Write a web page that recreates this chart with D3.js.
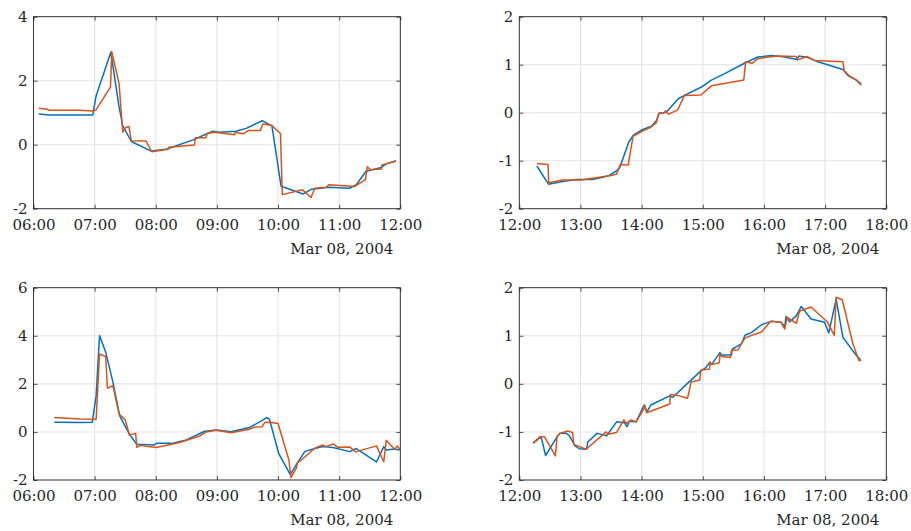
<!DOCTYPE html>
<html>
<head>
<meta charset="utf-8">
<script src="https://cdn.jsdelivr.net/npm/d3@7"></script>
<style>
  html, body { margin: 0; padding: 0; background: #ffffff; }
  svg { display: block; }
  text { font-family: "DejaVu Serif", serif; fill: #262626; }
</style>
</head>
<body>
<svg id="chart" width="911" height="531"></svg>
<script>
// ---------------- DATA (times are decimal hours on Mar 08, 2004) ----------------
const dateLabel = "Mar 08, 2004";

// Panel 1 (top-left)
const p1BlueT = [6.087, 6.26, 6.97, 7.025, 7.265, 7.396, 7.46, 7.60, 7.925, 8.17, 8.61, 8.93, 9.04, 9.31, 9.48, 9.74, 9.90, 10.05, 10.41, 10.55, 10.83, 11.17, 11.28, 11.44, 11.69, 11.77, 11.93];
const p1BlueV = [0.96, 0.93, 0.93, 1.53, 2.89, 1.22, 0.59, 0.10, -0.20, -0.14, 0.15, 0.42, 0.39, 0.42, 0.51, 0.75, 0.59, -1.30, -1.54, -1.39, -1.33, -1.36, -1.25, -0.83, -0.71, -0.60, -0.50];
const p1OrangeT = [6.087, 6.23, 6.245, 6.75, 6.98, 7.02, 7.26, 7.28, 7.40, 7.46, 7.51, 7.56, 7.60, 7.84, 7.935, 8.20, 8.21, 8.63, 8.65, 8.82, 8.84, 8.96, 9.29, 9.30, 9.43, 9.51, 9.71, 9.75, 9.89, 10.04, 10.07, 10.40, 10.54, 10.60, 10.79, 10.83, 11.14, 11.25, 11.43, 11.46, 11.51, 11.69, 11.70, 11.93];
const p1OrangeV = [1.14, 1.11, 1.08, 1.08, 1.05, 1.08, 1.81, 2.91, 1.90, 0.39, 0.54, 0.57, 0.125, 0.115, -0.22, -0.14, -0.08, -0.01, 0.22, 0.22, 0.35, 0.39, 0.31, 0.39, 0.34, 0.44, 0.44, 0.65, 0.61, 0.35, -1.56, -1.41, -1.65, -1.36, -1.33, -1.25, -1.29, -1.31, -1.09, -0.69, -0.78, -0.76, -0.63, -0.52];

// Panel 2 (top-right)
const p2BlueT = [12.286, 12.477, 12.684, 12.93, 13.20, 13.45, 13.58, 13.64, 13.79, 13.87, 14.02, 14.16, 14.24, 14.29, 14.37, 14.42, 14.60, 14.70, 14.97, 15.14, 15.35, 15.68, 15.90, 16.14, 16.34, 16.54, 16.57, 16.72, 16.88, 17.29, 17.37, 17.51, 17.59];
const p2BlueV = [-1.11, -1.49, -1.44, -1.39, -1.39, -1.32, -1.22, -1.15, -0.61, -0.46, -0.35, -0.28, -0.17, -0.01, 0.00, 0.035, 0.29, 0.36, 0.53, 0.68, 0.81, 1.03, 1.16, 1.19, 1.16, 1.11, 1.18, 1.15, 1.06, 0.90, 0.78, 0.68, 0.60];
const p2OrangeT = [12.286, 12.47, 12.48, 12.70, 13.01, 13.28, 13.50, 13.59, 13.61, 13.65, 13.78, 13.86, 14.02, 14.14, 14.24, 14.28, 14.37, 14.39, 14.44, 14.59, 14.70, 14.97, 15.14, 15.67, 15.70, 15.81, 15.90, 16.20, 16.53, 16.55, 16.70, 16.83, 17.29, 17.31, 17.40, 17.50, 17.59];
const p2OrangeV = [-1.06, -1.08, -1.46, -1.40, -1.40, -1.35, -1.31, -1.28, -1.22, -1.08, -1.09, -0.49, -0.38, -0.31, -0.21, -0.01, 0.00, 0.04, -0.03, 0.06, 0.36, 0.37, 0.56, 0.68, 1.06, 1.03, 1.125, 1.18, 1.17, 1.10, 1.17, 1.09, 1.06, 0.88, 0.76, 0.69, 0.57];

// Panel 3 (bottom-left)
const p3BlueT = [6.34, 6.81, 6.96, 7.025, 7.08, 7.18, 7.30, 7.41, 7.57, 7.69, 7.98, 8.01, 8.28, 8.50, 8.80, 8.99, 9.23, 9.53, 9.75, 9.81, 9.86, 10.01, 10.20, 10.32, 10.44, 10.62, 10.73, 10.90, 11.17, 11.28, 11.61, 11.73, 11.77, 11.905, 11.99];
const p3BlueV = [0.40, 0.39, 0.40, 1.5, 4.0, 3.33, 2.06, 0.67, -0.10, -0.51, -0.54, -0.47, -0.47, -0.33, 0.03, 0.08, 0.01, 0.18, 0.49, 0.60, 0.53, -0.89, -1.78, -1.28, -0.81, -0.68, -0.61, -0.65, -0.82, -0.69, -1.25, -0.61, -0.75, -0.71, -0.75];
const p3OrangeT = [6.34, 6.75, 7.025, 7.08, 7.18, 7.21, 7.30, 7.40, 7.50, 7.57, 7.67, 7.69, 7.76, 7.84, 8.01, 8.39, 8.72, 8.82, 8.99, 9.23, 9.53, 9.63, 9.74, 9.78, 9.87, 10.00, 10.18, 10.21, 10.30, 10.32, 10.38, 10.60, 10.73, 10.78, 10.90, 10.98, 11.17, 11.27, 11.61, 11.73, 11.77, 11.905, 11.95, 11.99];
const p3OrangeV = [0.60, 0.54, 0.53, 3.24, 3.14, 1.82, 1.92, 0.74, 0.50, -0.125, -0.06, -0.64, -0.56, -0.60, -0.65, -0.44, -0.17, 0.00, 0.07, -0.03, 0.11, 0.21, 0.22, 0.39, 0.40, 0.35, -1.19, -1.90, -1.51, -1.28, -1.17, -0.68, -0.54, -0.61, -0.50, -0.64, -0.625, -0.83, -0.58, -1.24, -0.35, -0.72, -0.58, -0.72];

// Panel 4 (bottom-right)
const p4BlueT = [12.23, 12.29, 12.36, 12.43, 12.60, 12.66, 12.77, 12.82, 12.91, 12.98, 13.10, 13.12, 13.27, 13.43, 13.59, 13.72, 13.76, 13.80, 13.91, 14.04, 14.09, 14.15, 14.46, 14.51, 14.75, 14.97, 15.05, 15.11, 15.15, 15.28, 15.31, 15.47, 15.48, 15.63, 15.69, 15.80, 15.96, 16.12, 16.28, 16.34, 16.36, 16.42, 16.53, 16.61, 16.77, 16.99, 17.06, 17.18, 17.29, 17.45, 17.54, 17.58];
const p4BlueV = [-1.24, -1.15, -1.12, -1.49, -1.14, -1.03, -1.03, -1.08, -1.29, -1.35, -1.36, -1.21, -1.03, -1.08, -0.79, -0.81, -0.89, -0.78, -0.79, -0.44, -0.58, -0.44, -0.25, -0.28, 0.01, 0.27, 0.34, 0.44, 0.41, 0.65, 0.60, 0.60, 0.72, 0.83, 1.01, 1.07, 1.23, 1.30, 1.28, 1.19, 1.40, 1.29, 1.42, 1.61, 1.35, 1.28, 1.06, 1.76, 0.97, 0.69, 0.55, 0.50];
const p4OrangeT = [12.23, 12.29, 12.33, 12.41, 12.59, 12.62, 12.67, 12.79, 12.87, 12.89, 13.09, 13.42, 13.45, 13.59, 13.71, 13.75, 13.83, 13.91, 14.04, 14.05, 14.08, 14.46, 14.47, 14.59, 14.75, 14.81, 14.95, 14.97, 15.04, 15.11, 15.12, 15.14, 15.27, 15.28, 15.31, 15.45, 15.47, 15.58, 15.62, 15.69, 15.80, 15.96, 16.11, 16.28, 16.34, 16.38, 16.53, 16.58, 16.77, 17.04, 17.15, 17.18, 17.28, 17.45, 17.55, 17.59];
const p4OrangeV = [-1.21, -1.18, -1.10, -1.10, -1.50, -1.08, -1.03, -0.98, -1.01, -1.26, -1.36, -1.00, -1.05, -1.01, -0.75, -0.82, -0.75, -0.79, -0.51, -0.44, -0.60, -0.42, -0.22, -0.24, -0.30, 0.04, 0.08, 0.29, 0.30, 0.31, 0.46, 0.40, 0.44, 0.62, 0.57, 0.55, 0.70, 0.71, 0.81, 0.95, 1.01, 1.08, 1.30, 1.28, 1.14, 1.38, 1.26, 1.51, 1.60, 1.28, 1.01, 1.80, 1.75, 0.85, 0.49, 0.48];

// Axis ticks
const xTicksMorning = [6, 7, 8, 9, 10, 11, 12];
const xTicksAfternoon = [12, 13, 14, 15, 16, 17, 18];
const yTicks1 = [-2, 0, 2, 4];
const yTicks2 = [-2, -1, 0, 1, 2];
const yTicks3 = [-2, 0, 2, 4, 6];
const yTicks4 = [-2, -1, 0, 1, 2];

// ---------------- DRAWING ----------------
const BLUE = "#0072BD", ORANGE = "#D95319", AXIS = "#262626", GRID = "#e3e3e3";
const FONT = '"DejaVu Serif", serif';
const FSIZE = "15px";
const toDate = h => new Date(2004, 2, 8, 0, 0, Math.round(h * 3600));
const svg = d3.select("#chart");

const panels = [
  { left: 33.5, right: 400.3, top: 16.7, bottom: 208.7, xr: [6, 12], xt: xTicksMorning, yr: [-2, 4], yt: yTicks1,
    series: [[p1BlueT, p1BlueV, BLUE], [p1OrangeT, p1OrangeV, ORANGE]] },
  { left: 519.3, right: 886.3, top: 16.7, bottom: 208.7, xr: [12, 18], xt: xTicksAfternoon, yr: [-2, 2], yt: yTicks2,
    series: [[p2BlueT, p2BlueV, BLUE], [p2OrangeT, p2OrangeV, ORANGE]] },
  { left: 33.5, right: 400.3, top: 287.7, bottom: 480, xr: [6, 12], xt: xTicksMorning, yr: [-2, 6], yt: yTicks3,
    series: [[p3BlueT, p3BlueV, BLUE], [p3OrangeT, p3OrangeV, ORANGE]] },
  { left: 519.3, right: 886.3, top: 287.7, bottom: 480, xr: [12, 18], xt: xTicksAfternoon, yr: [-2, 2], yt: yTicks4,
    series: [[p4BlueT, p4BlueV, BLUE], [p4OrangeT, p4OrangeV, ORANGE]] }
];

const fmtTime = d3.timeFormat("%H:%M");
const fmtY = v => (v < 0 ? "-" : "") + Math.abs(v);

panels.forEach(p => {
  const x = d3.scaleTime().domain(p.xr.map(toDate)).range([p.left, p.right]);
  const y = d3.scaleLinear().domain(p.yr).range([p.bottom, p.top]);
  const xTickDates = p.xt.map(toDate);
  const g = svg.append("g");

  // grid
  g.append("g").selectAll("line").data(xTickDates).join("line")
    .attr("x1", d => x(d)).attr("x2", d => x(d)).attr("y1", p.top).attr("y2", p.bottom)
    .attr("stroke", GRID).attr("stroke-width", 1.1);
  g.append("g").selectAll("line").data(p.yt).join("line")
    .attr("x1", p.left).attr("x2", p.right).attr("y1", d => y(d)).attr("y2", d => y(d))
    .attr("stroke", GRID).attr("stroke-width", 1.1);

  // data lines
  p.series.forEach(([T, V, col]) => {
    const pts = T.map((t, i) => [toDate(t), V[i]]);
    g.append("path").datum(pts)
      .attr("fill", "none").attr("stroke", col).attr("stroke-width", 1.5)
      .attr("stroke-linejoin", "round")
      .attr("d", d3.line().x(d => x(d[0])).y(d => y(d[1])));
  });

  // axes
  const styleAxis = sel => {
    sel.select(".domain").remove();
    sel.selectAll(".tick line").attr("stroke", AXIS).attr("stroke-width", 0.8);
    sel.selectAll("text").attr("fill", AXIS).style("font-size", FSIZE).style("font-family", FONT);
  };
  g.append("g").attr("transform", `translate(0,${p.bottom})`)
    .call(d3.axisBottom(x).tickValues(xTickDates).tickFormat(fmtTime).tickSizeInner(-4).tickSizeOuter(0).tickPadding(10.5))
    .call(styleAxis);
  g.append("g").attr("transform", `translate(0,${p.top})`)
    .call(d3.axisTop(x).tickValues(xTickDates).tickFormat("").tickSizeInner(-4).tickSizeOuter(0))
    .call(styleAxis);
  g.append("g").attr("transform", `translate(${p.left},0)`)
    .call(d3.axisLeft(y).tickValues(p.yt).tickFormat(fmtY).tickSizeInner(-4).tickSizeOuter(0).tickPadding(6))
    .call(styleAxis);
  g.append("g").attr("transform", `translate(${p.right},0)`)
    .call(d3.axisRight(y).tickValues(p.yt).tickFormat("").tickSizeInner(-4).tickSizeOuter(0))
    .call(styleAxis);

  // box
  g.append("rect").attr("x", p.left).attr("y", p.top)
    .attr("width", p.right - p.left).attr("height", p.bottom - p.top)
    .attr("fill", "none").attr("stroke", AXIS).attr("stroke-width", 0.9);

  // date label
  g.append("text").attr("x", p.right - 7).attr("y", p.bottom + 45)
    .attr("text-anchor", "end").style("font-size", FSIZE)
    .style("font-family", FONT).attr("fill", AXIS).text(dateLabel);
});
</script>
</body>
</html>
